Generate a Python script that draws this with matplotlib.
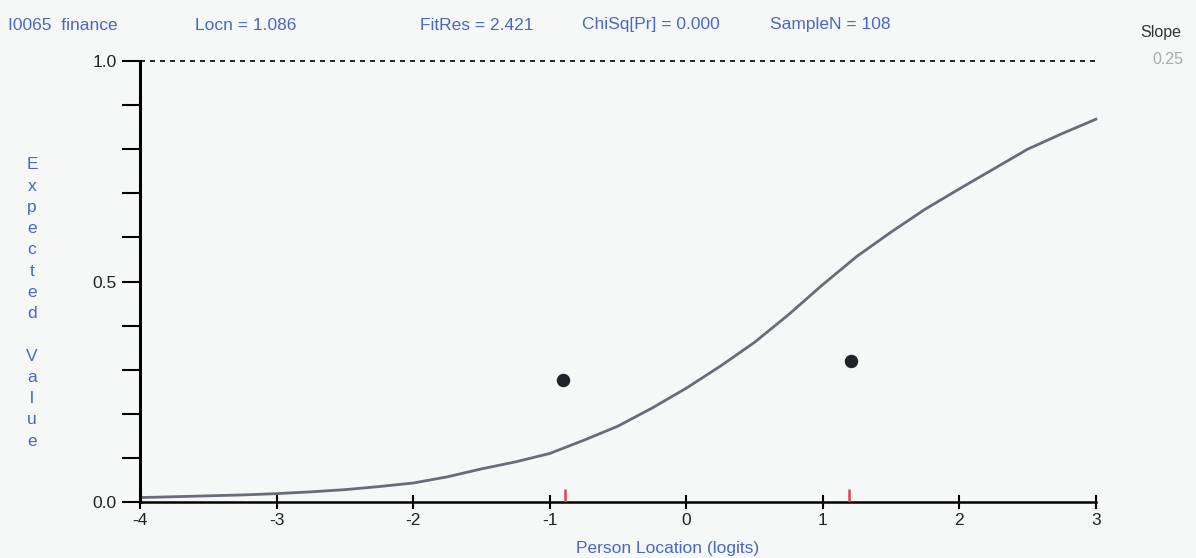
import matplotlib
matplotlib.use("Agg")
import matplotlib.pyplot as plt
from matplotlib.ticker import MultipleLocator

plt.rcParams['font.family'] = ['Liberation Sans', 'DejaVu Sans']

# expected value curve
curve_x = [-4.0, -3.75, -3.5, -3.25, -3.0, -2.75, -2.5, -2.25, -2.0, -1.75, -1.5, -1.25,
           -1.0, -0.75, -0.5, -0.25, 0.0, 0.25, 0.5, 0.75, 1.0, 1.25, 1.5, 1.75,
           2.0, 2.25, 2.5, 2.75, 3.0]
curve_y = [0.010, 0.012, 0.014, 0.016, 0.019, 0.023, 0.028, 0.035, 0.043, 0.057, 0.075, 0.091,
           0.110, 0.140, 0.172, 0.213, 0.258, 0.308, 0.362, 0.425, 0.493, 0.557, 0.612, 0.664,
           0.710, 0.755, 0.800, 0.835, 0.868]

# observed class means
obs_x = [-0.90, 1.21]
obs_y = [0.277, 0.320]

# class interval markers on the x axis
marker_x = [-0.89, 1.19]

x_ticks = [-4, -3, -2, -1, 0, 1, 2, 3]
y_ticks = [0.0, 0.5, 1.0]
y_tick_labels = ["0.0", "0.5", "1.0"]

header = [("I0065  finance", 8), ("Locn = 1.086", 195), ("FitRes = 2.421", 420),
          ("ChiSq[Pr] = 0.000", 582), ("SampleN = 108", 770)]

blue = '#4a68c0'
bg = '#f6f7f7'

fig = plt.figure(figsize=(11.96, 5.58), dpi=100, facecolor=bg)
ax = fig.add_axes([140 / 1196, 1 - 502 / 558, 958.6 / 1196, 441 / 558])
ax.set_facecolor(bg)

ax.plot(curve_x, curve_y, color='#6b6b78', lw=2.0)
ax.scatter(obs_x, obs_y, s=75, color='#202428', zorder=5)
ax.axhline(1.0, xmin=0, xmax=1, color='black', lw=1.2, ls=(0, (3, 3)), clip_on=False)
ax.vlines(marker_x, 0, 0.03, color='#e0405a', lw=1.8, zorder=4)

ax.set_xlim(-4, 3.02)
ax.set_ylim(0, 1.0)

for s in ['top', 'right']:
    ax.spines[s].set_visible(False)
ax.spines['left'].set_linewidth(2.2)
ax.spines['bottom'].set_linewidth(1.8)
ax.spines['bottom'].set_bounds(-4, 3)
ax.spines['left'].set_bounds(0, 1)

ax.set_xticks(x_ticks)
ax.set_xticklabels([str(v) for v in x_ticks])
ax.tick_params(axis='x', direction='inout', length=10, width=1.5, labelsize=12.5,
               labelcolor='#222222', pad=3)
ax.set_yticks(y_ticks)
ax.set_yticklabels(y_tick_labels)
ax.yaxis.set_minor_locator(MultipleLocator(0.1))
ax.tick_params(axis='y', which='both', direction='out', length=13, width=1.5,
               labelsize=12.5, labelcolor='#222222', pad=4)

for txt, px in header:
    fig.text(px / 1196, 1 - 25 / 558, txt, color=blue, fontsize=12.5, va='center', ha='left')
fig.text(1140 / 1196, 1 - 32 / 558, "Slope", color='#333333', fontsize=11.5, va='center')
fig.text(1152 / 1196, 1 - 60 / 558, "0.25", color='#aaaaaa', fontsize=11.5, va='center')

fig.text(668 / 1196, 1 - 548 / 558, "Person Location (logits)", color=blue, fontsize=12.5,
         ha='center', va='center')
fig.text(32 / 1196, 1 - 303 / 558, "\n".join("Expected Value"), color=blue, fontsize=12.5,
         ha='center', va='center', linespacing=1.52)

fig.savefig('out.png', dpi=100, facecolor=bg)
